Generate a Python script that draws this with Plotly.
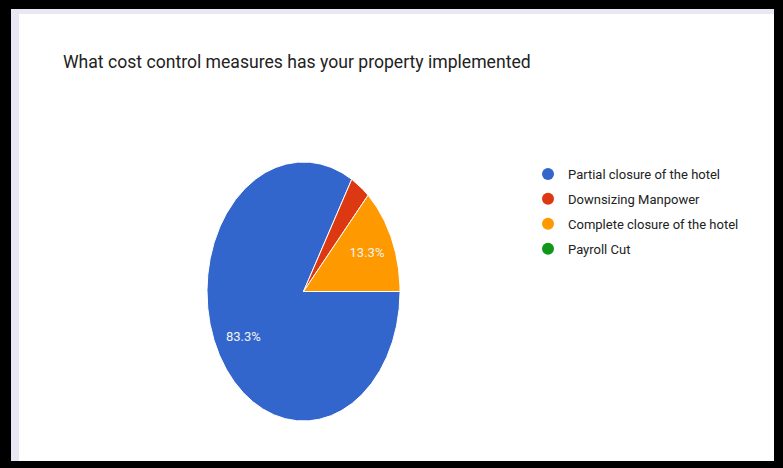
import numpy as np
import plotly.graph_objects as go

# Survey responses: cost control measures implemented (30 respondents)
categories = ["Partial closure of the hotel", "Downsizing Manpower",
              "Complete closure of the hotel", "Payroll Cut"]
counts = [25, 1, 4, 0]
colors = ["#3366cc", "#dc3912", "#ff9900", "#109618"]
title_text = "What cost control measures has your property implemented"

W, H = 783, 468
# pie centre and radii in pixels (drawn as an ellipse)
cx, cy, rx, ry = 303.5, 291.5, 96.5, 129.5
start_deg = 90.0  # first slice begins at 3 o'clock, running clockwise

FONT = "Roboto, Arial, sans-serif"

total = sum(counts)
fig = go.Figure()

ang = start_deg
for name, val, col in zip(categories, counts, colors):
    share = val / total
    span = share * 360.0
    if val > 0:
        t = np.radians(np.linspace(ang, ang + span, max(int(span * 2), 4)))
        xs = np.concatenate([[0], np.sin(t), [0]])
        ys = np.concatenate([[0], np.cos(t), [0]])
        fig.add_trace(go.Scatter(
            x=xs, y=ys, mode="lines", fill="toself", fillcolor=col,
            line=dict(color="white", width=1), showlegend=False,
            hoverinfo="skip"))
        if share >= 0.05:
            mid = np.radians(ang + span / 2)
            fig.add_trace(go.Scatter(
                x=[0.72 * np.sin(mid)], y=[0.72 * np.cos(mid)], mode="text",
                text=[f"{share * 100:.1f}%"],
                textfont=dict(family=FONT, size=13, color="#f2f2f2"),
                showlegend=False, hoverinfo="skip"))
    ang += span

# legend entries
for i, (name, col) in enumerate(zip(categories, colors)):
    fig.add_trace(go.Scatter(
        x=[None], y=[None], mode="markers", name=name,
        marker=dict(symbol="circle", size=12, color=col),
        legendgroup=f"g{i}"))

fig.update_layout(
    width=W, height=H,
    margin=dict(l=0, r=0, t=0, b=0),
    paper_bgcolor="black",
    plot_bgcolor="rgba(0,0,0,0)",
    xaxis=dict(range=[-cx / rx, (W - cx) / rx], visible=False, fixedrange=True),
    yaxis=dict(range=[-(H - cy) / ry, cy / ry], visible=False, fixedrange=True),
    title=dict(text=title_text, x=63 / W, xanchor="left", xref="paper",
               y=1 - 62 / H, yanchor="middle", yref="paper",
               font=dict(family=FONT, size=17.6, color="#222222")),
    legend=dict(x=528 / W, xanchor="left", y=1 - 159 / H, yanchor="top",
                font=dict(family=FONT, size=13, color="#222222"),
                tracegroupgap=5, bgcolor="rgba(0,0,0,0)"),
    shapes=[
        dict(type="rect", xref="paper", yref="paper", layer="below",
             x0=11 / W, x1=774 / W, y0=1 - 461 / H, y1=1 - 9 / H,
             fillcolor="#e9e7f2", line=dict(width=0)),
        dict(type="rect", xref="paper", yref="paper", layer="below",
             x0=19 / W, x1=774 / W, y0=1 - 461 / H, y1=1 - 14 / H,
             fillcolor="white", line=dict(width=0)),
    ],
)

fig.write_html("out.html")
